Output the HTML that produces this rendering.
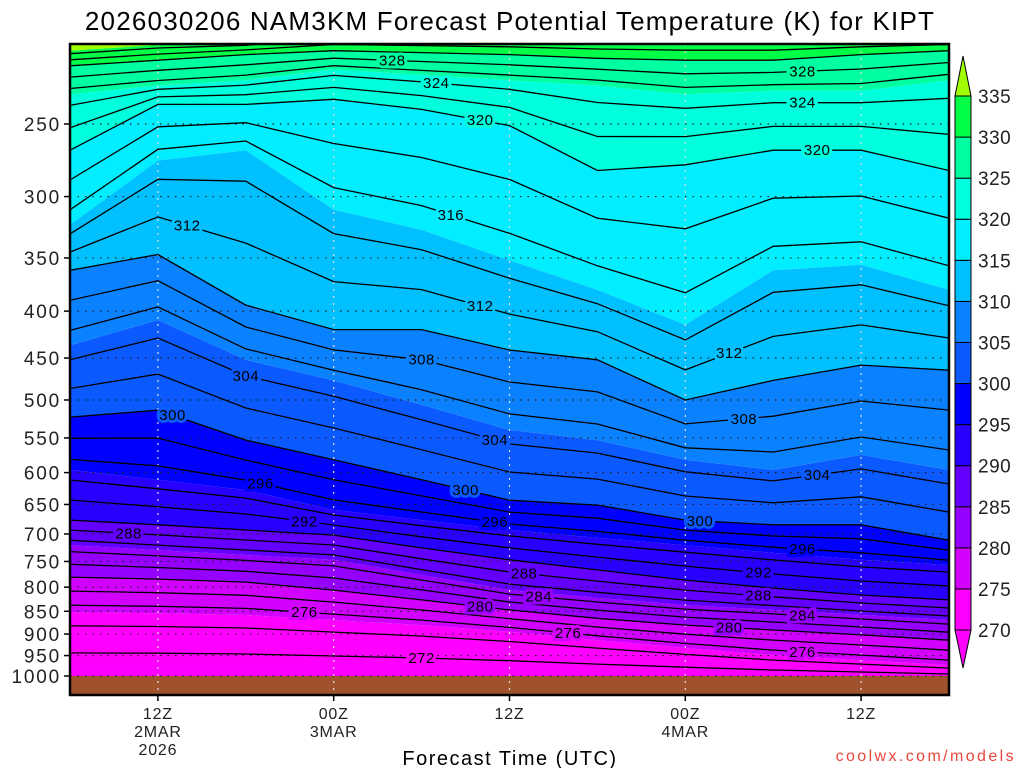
<!DOCTYPE html>
<html><head><meta charset="utf-8"><style>
body{margin:0;background:#fff;}
svg{display:block;font-family:"Liberation Sans","DejaVu Sans",sans-serif;}
</style></head><body>
<svg id="chart" width="1024" height="768" viewBox="0 0 1024 768">
<defs><clipPath id="plotclip"><rect x="70" y="44" width="879" height="651"/></clipPath></defs>
<text x="510" y="30" text-anchor="middle" font-size="26" fill="#000" letter-spacing="1.2">2026030206 NAM3KM Forecast Potential Temperature (K) for KIPT</text>
<g id="fills" clip-path="url(#plotclip)"></g>
<g id="grid"></g>
<g id="lines" clip-path="url(#plotclip)"></g>
<g id="labels"></g>
<g id="axes"></g>
<g id="cbar"></g>
<text x="510" y="765" text-anchor="middle" font-size="20" fill="#000" letter-spacing="1.5">Forecast Time (UTC)</text>
<text x="1016" y="761" text-anchor="end" font-size="16" fill="#e8463c" letter-spacing="2.4">coolwx.com/models</text>
</svg>
<script>
// ---- data ----
const hours = [0,6,12,18,24,30,36,42,48,54,60];
const thetaLevels = [270,275,280,285,290,295,300,305,310,315,320,325,330,335];
// pressure (hPa) of each theta surface at each forecast hour
const p270 = [1010,1010,1010,1010,1010,1010,1010,1010,1010,1010,1010];
const p275 = [852,854,858,869,880,895,914,932,949,961,973];
const p280 = [780,784,790,806,826,847,865,880,891,902,914];
const p285 = [720,729,738,747,776,806,822,837,847,858,869];
const p290 = [676,684,693,702,725,747,766,786,802,816,826];
const p295 = [596,611,627,659,676,693,707,720,734,747,757];
const p300 = [522,513,553,581,611,643,651,676,684,684,711];
const p305 = [436,409,452,476,506,539,553,581,596,574,596];
const p310 = [361,347,394,419,419,441,452,500,476,458,464];
const p315 = [322,274,267,310,326,352,379,414,361,356,379];
const p320 = [267,238,238,235,241,251,281,277,267,267,281];
const p325 = [232,227,224,218,221,224,227,232,230,230,224];
const p330 = [216,213,210,208,209,210,212,213,213,210,208];
const p335 = [208,205,204,200,200,200,200,200,200,200,200];
const surfacePressure = [1000,1000,1000,1000,1000,1000,1000,1000,1000,1000,1000];
const pressureTicks = [250,300,350,400,450,500,550,600,650,700,750,800,850,900,950,1000];
const timeTickHours = [6,18,30,42,54];
const timeTickLabels = [["12Z","2MAR","2026"],["00Z","3MAR"],["12Z"],["00Z","4MAR"],["12Z"]];
const contourLabelTheta = [328,328,324,324,320,320,316,312,312,312,308,308,304,304,304,300,300,300,296,296,296,292,292,288,288,288,284,284,280,280,276,276,276,272];
const contourLabelHour  = [22,50,25,50,28,51,26,8,28,45,24,46,12,29,51,7,27,43,13,29,50,16,47,4,31,47,32,50,28,45,16,34,50,24];
const bandColors = ["#ff00ff","#d200ff","#9600ff","#6400ff","#2800ff","#0000ff","#0a5aff","#0a82ff","#00c0ff","#00eeff","#00ffdc","#00ffa0","#00ff46"];
const belowColor = "#ff00ff", aboveColor = "#a0ff00";

const P = [p270,p275,p280,p285,p290,p295,p300,p305,p310,p315,p320,p325,p330,p335];
const NS = "http://www.w3.org/2000/svg";
const X0=70, X1=949, Y0=44, Y1=695;
function xs(h){return X0+h*(X1-X0)/60;}
function ys(p){return 676-398.2*Math.log(1000/p);}
function mk(tag,attrs,parent){const e=document.createElementNS(NS,tag);for(const k in attrs)e.setAttribute(k,attrs[k]);parent.appendChild(e);return e;}
function pts(arr){return hours.map((h,i)=>xs(h).toFixed(1)+","+ys(arr[i]).toFixed(1));}

const fills=document.getElementById('fills');
let poly=mk('polygon',{points:[X0+","+Y0,X1+","+Y0].concat(pts(P[P.length-1]).reverse()).join(" "),fill:aboveColor},fills);


for(let i=0;i<P.length-1;i++){
  const up=pts(P[i+1]), lo=pts(P[i]).reverse();
  const e=mk('polygon',{points:up.concat(lo).join(" "),fill:bandColors[i]},fills);
  
  
}
poly=mk('polygon',{points:pts(P[0]).concat([X1+","+Y1,X0+","+Y1]).join(" "),fill:belowColor},fills);


const ground=mk('polygon',{points:pts(surfacePressure).concat([X1+","+Y1,X0+","+Y1]).join(" "),fill:"#a0522d"},fills);



function pAt(t,i){
  for(let k=0;k<thetaLevels.length-1;k++){
    if(t>=thetaLevels[k]&&t<=thetaLevels[k+1]){
      const f=(t-thetaLevels[k])/(thetaLevels[k+1]-thetaLevels[k]);
      return Math.exp(Math.log(P[k][i])*(1-f)+Math.log(P[k+1][i])*f);
    }
  }
  return 1000;
}
function pAtHour(t,h){
  let i=Math.min(hours.length-2,Math.floor(h/6));const f=(h-hours[i])/6;
  return Math.exp(Math.log(pAt(t,i))*(1-f)+Math.log(pAt(t,i+1))*f);
}
const lines=document.getElementById('lines');
for(let t=272;t<=334;t+=2){
  const arr=hours.map((h,i)=>pAt(t,i));
  const e=mk('polyline',{points:pts(arr).join(" "),fill:"none",stroke:"#000","stroke-width":1.3},lines);
  
  
}
const labels=document.getElementById('labels');
contourLabelTheta.forEach((t,j)=>{
  const x=xs(contourLabelHour[j]), y=ys(pAtHour(t,contourLabelHour[j]));
  if(y>672||y<50) return;
  const bc=bandColors[Math.max(0,Math.min(12,Math.floor((t-270)/5)))];
  const e=mk('text',{x:x,y:y+5,"text-anchor":"middle","font-size":15,fill:"#000",stroke:bc,"stroke-width":6,"paint-order":"stroke","letter-spacing":0.5},labels);
  e.textContent=t;
  
  
});

const grid=document.getElementById('grid'), axes=document.getElementById('axes');
pressureTicks.forEach(p=>{
  const y=ys(p);
  const g=mk('line',{x1:X0,x2:X1,y1:y,y2:y,stroke:"#222","stroke-width":1.2,"stroke-dasharray":"1.5 6"},grid);
  
  
  const tk=mk('line',{x1:X0-6,x2:X0,y1:y,y2:y,stroke:"#000","stroke-width":1.5},axes);
  
  
  const t=mk('text',{x:61,y:y+7,"text-anchor":"end","font-size":19,fill:"#222","letter-spacing":1.8},axes);
  t.textContent=p;
  
  
});
timeTickHours.forEach((h,j)=>{
  const x=xs(h);
  const g=mk('line',{x1:x,x2:x,y1:Y0,y2:Y1,stroke:"#ddd","stroke-width":1.2,"stroke-dasharray":"2 5"},grid);
  
  
  const tk=mk('line',{x1:x,x2:x,y1:Y1,y2:Y1+6,stroke:"#000","stroke-width":1.5},axes);
  
  
  timeTickLabels[j].forEach((s,k)=>{
    const t=mk('text',{x:x,y:719+k*18,"text-anchor":"middle","font-size":16,fill:"#222","letter-spacing":0.8},axes);
    t.textContent=s;
    
    
  });
});
const frame=mk('rect',{x:X0,y:Y0,width:X1-X0,height:Y1-Y0,fill:"none",stroke:"#000","stroke-width":2.5},axes);



const cb=document.getElementById('cbar');
const cbX=955, cbW=16, cbStep=(630-96)/13;
for(let i=0;i<13;i++){
  const yb=630-i*cbStep;
  const r=mk('rect',{x:cbX,y:yb-cbStep,width:cbW,height:cbStep,fill:bandColors[i],stroke:"#000","stroke-width":1},cb);
  
  
}
let tri=mk('polygon',{points:`${cbX},96 ${cbX+cbW},96 ${cbX+cbW/2},56`,fill:aboveColor,stroke:"#000","stroke-width":1},cb);


tri=mk('polygon',{points:`${cbX},630 ${cbX+cbW},630 ${cbX+cbW/2},668`,fill:belowColor,stroke:"#000","stroke-width":1},cb);


thetaLevels.forEach((t,i)=>{
  const e=mk('text',{x:978,y:630-i*cbStep+7,"font-size":19,fill:"#222","letter-spacing":0.5},cb);
  e.textContent=t;
  
  
});
</script>
</body></html>
